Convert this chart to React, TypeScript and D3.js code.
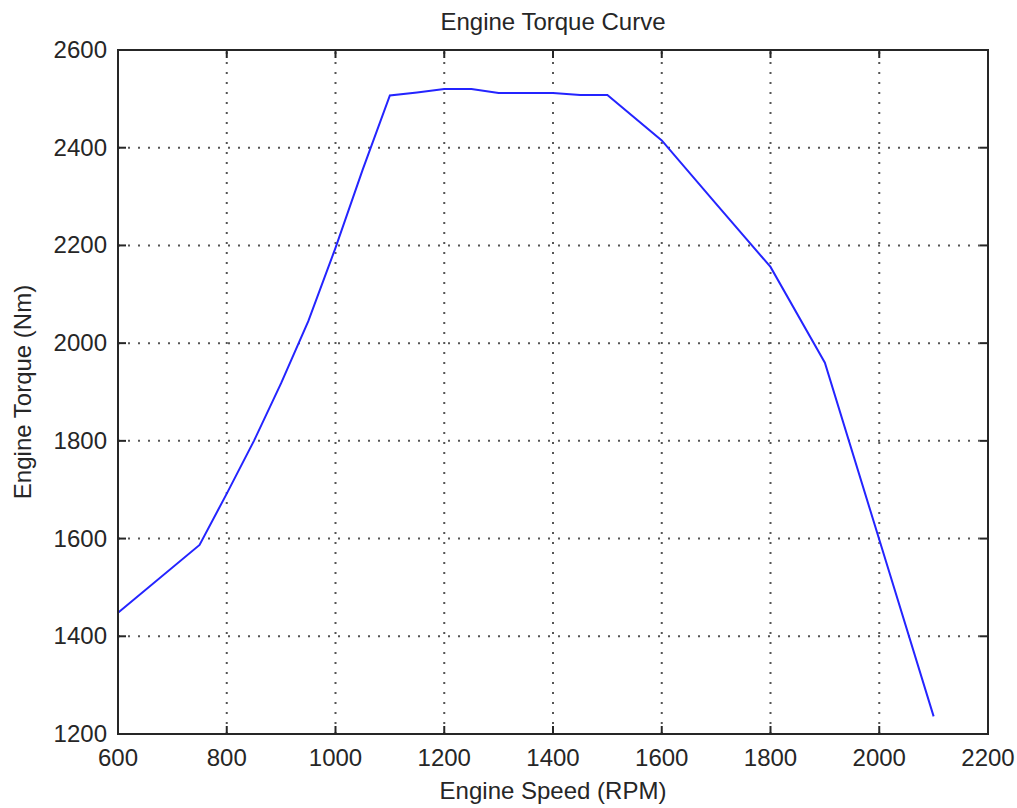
import React, { useRef, useEffect } from 'react';
import * as d3 from 'd3';

// engine speed (RPM) and torque (Nm)
const speedRpm = [600, 750, 800, 850, 900, 950, 1000, 1050, 1100, 1150, 1200, 1250, 1300, 1400, 1450, 1500, 1600, 1700, 1800, 1900, 2000, 2100];
const torqueNm = [1448, 1587, 1692, 1800, 1918, 2045, 2195, 2355, 2507, 2513, 2520, 2520, 2512, 2512, 2508, 2508, 2415, 2285, 2156, 1960, 1598, 1236];

const xTicks = [600, 800, 1000, 1200, 1400, 1600, 1800, 2000, 2200];
const yTicks = [1200, 1400, 1600, 1800, 2000, 2200, 2400, 2600];

const App = () => {
  const ref = useRef<SVGSVGElement>(null);

  useEffect(() => {
    const width = 1017;
    const height = 808;
    const left = 118, right = 988, top = 50, bottom = 734;
    const font = 'Arial, "Liberation Sans", Helvetica, sans-serif';
    const ink = '#262626';

    const x = d3.scaleLinear().domain([600, 2200]).range([left, right]);
    const y = d3.scaleLinear().domain([1200, 2600]).range([bottom, top]);

    const svg = d3.select(ref.current);
    svg.selectAll('*').remove();
    svg.attr('width', width).attr('height', height);

    svg.append('rect').attr('width', width).attr('height', height).attr('fill', '#fff');

    // dotted grid
    const grid = svg.append('g')
      .attr('stroke', '#555')
      .attr('stroke-width', 2)
      .attr('stroke-dasharray', '2,8');
    grid.selectAll('line.gx')
      .data(xTicks.slice(1, -1))
      .join('line')
      .attr('class', 'gx')
      .attr('x1', d => x(d)).attr('x2', d => x(d))
      .attr('y1', bottom).attr('y2', top);
    grid.selectAll('line.gy')
      .data(yTicks.slice(1, -1))
      .join('line')
      .attr('class', 'gy')
      .attr('y1', d => y(d)).attr('y2', d => y(d))
      .attr('x1', left).attr('x2', right);

    // the curve
    const pts = speedRpm.map((s, i) => [s, torqueNm[i]] as [number, number]);
    svg.append('path')
      .datum(pts)
      .attr('d', d3.line<[number, number]>().x(d => x(d[0])).y(d => y(d[1])))
      .attr('fill', 'none')
      .attr('stroke', '#2424ff')
      .attr('stroke-width', 2);

    // box and ticks
    const tl = 8;
    const axes = svg.append('g').attr('stroke', ink).attr('stroke-width', 2);
    axes.append('rect')
      .attr('x', left).attr('y', top)
      .attr('width', right - left).attr('height', bottom - top)
      .attr('fill', 'none');
    xTicks.forEach(t => {
      axes.append('line').attr('x1', x(t)).attr('x2', x(t)).attr('y1', bottom).attr('y2', bottom - tl);
      axes.append('line').attr('x1', x(t)).attr('x2', x(t)).attr('y1', top).attr('y2', top + tl);
    });
    yTicks.forEach(t => {
      axes.append('line').attr('y1', y(t)).attr('y2', y(t)).attr('x1', left).attr('x2', left + tl);
      axes.append('line').attr('y1', y(t)).attr('y2', y(t)).attr('x1', right).attr('x2', right - tl);
    });

    const txt = svg.append('g')
      .attr('font-family', font)
      .attr('font-size', 24)
      .attr('fill', ink);

    txt.selectAll('text.xt')
      .data(xTicks)
      .join('text')
      .attr('class', 'xt')
      .attr('x', d => x(d))
      .attr('y', 766)
      .attr('text-anchor', 'middle')
      .text(d => d);

    txt.selectAll('text.yt')
      .data(yTicks)
      .join('text')
      .attr('class', 'yt')
      .attr('x', 107)
      .attr('y', d => y(d) + 8)
      .attr('text-anchor', 'end')
      .text(d => d);

    txt.append('text')
      .attr('x', (left + right) / 2)
      .attr('y', 30)
      .attr('text-anchor', 'middle')
      .text('Engine Torque Curve');

    txt.append('text')
      .attr('x', (left + right) / 2)
      .attr('y', 799)
      .attr('text-anchor', 'middle')
      .text('Engine Speed (RPM)');

    txt.append('text')
      .attr('transform', `translate(31,${(top + bottom) / 2}) rotate(-90)`)
      .attr('text-anchor', 'middle')
      .text('Engine Torque (Nm)');
  }, []);

  return <svg ref={ref} style={{ position: 'absolute', left: 0, top: 0 }} />;
};

export default App;
